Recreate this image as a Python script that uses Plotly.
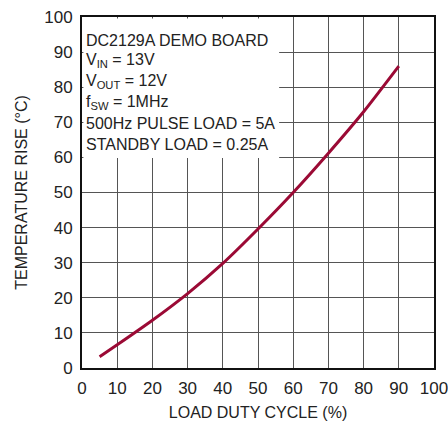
import plotly.graph_objects as go

duty = [5, 10, 20, 30, 40, 50, 60, 70, 80, 90]
temp_rise = [3.2, 6.6, 13.6, 21.2, 29.8, 39.6, 50.0, 61.2, 73.0, 86.0]

x_ticks = list(range(0, 101, 10))
y_ticks = list(range(0, 101, 10))

info_lines = [
    "DC2129A DEMO BOARD",
    "V<sub>IN</sub> = 13V",
    "V<sub>OUT</sub> = 12V",
    "f<sub>SW</sub> = 1MHz",
    "500Hz PULSE LOAD = 5A",
    "STANDBY LOAD = 0.25A",
]

FONT = "Liberation Sans Narrow, Arial Narrow, Liberation Sans, Arial, sans-serif"
TXT = "#222222"

fig = go.Figure()
fig.add_trace(go.Scatter(
    x=duty, y=temp_rise, mode="lines",
    line=dict(color="#9b0a35", width=3, shape="spline", smoothing=0.6),
    showlegend=False, hoverinfo="skip",
))

axis_common = dict(
    showgrid=True, gridcolor="#555555", gridwidth=1,
    showline=True, linecolor="#111111", linewidth=2, mirror=True,
    zeroline=False, ticks="", automargin=False, ticklabelstandoff=4,
    ticklabeloverflow="allow",
    tickfont=dict(family=FONT, size=17, color=TXT),
)

fig.update_xaxes(range=[0, 100], tickvals=x_ticks, ticktext=[str(v) for v in x_ticks],
                 title=dict(text="LOAD DUTY CYCLE (%)", font=dict(family=FONT, size=16, color=TXT), standoff=9),
                 **axis_common)
fig.update_yaxes(range=[0, 100], tickvals=y_ticks, ticktext=[str(v) for v in y_ticks],
                 title=dict(text="TEMPERATURE RISE (°C)", font=dict(family=FONT, size=16, color=TXT), standoff=13),
                 **axis_common)

fig.add_shape(type="rect", xref="paper", yref="paper", x0=0.004, x1=0.56, y0=0.598, y1=0.996,
              fillcolor="white", line=dict(width=0), layer="above")

for i, t in enumerate(info_lines):
    fig.add_annotation(x=0.006, y=0.934 - i * 0.0593, xref="paper", yref="paper",
                       text=t, showarrow=False, xanchor="left", yanchor="middle",
                       font=dict(family=FONT, size=16, color=TXT))

fig.update_layout(
    width=448, height=421,
    margin=dict(l=82, r=14, t=17, b=53, autoexpand=False),
    paper_bgcolor="white", plot_bgcolor="white",
)

# remove the browser's default 8px body margin so the figure fills the window exactly
fig.write_html("out.html", config={"displayModeBar": False},
               post_script="document.body.style.margin='0';document.body.style.overflow='hidden';")
